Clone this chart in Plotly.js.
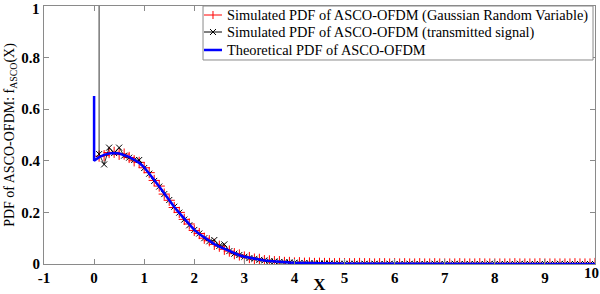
<!DOCTYPE html>
<html>
<head>
<meta charset="utf-8">
<script src="https://cdn.plot.ly/plotly-3.0.1.min.js"></script>
<style>html,body{margin:0;padding:0;background:#fff;}#chart{width:600px;height:294px;}</style>
</head>
<body>
<div id="chart"></div>
<script>
// Sample grid (x) shared by the two simulated series
const xGrid = [0.1,0.2,0.3,0.4,0.5,0.6,0.7,0.8,0.9,1.0,
  1.1,1.2,1.3,1.4,1.5,1.6,1.7,1.8,1.9,2.0,
  2.1,2.2,2.3,2.4,2.5,2.6,2.7,2.8,2.9,3.0,
  3.1,3.2,3.3,3.4,3.5,3.6,3.7,3.8,3.9,4.0,
  4.1,4.2,4.3,4.4,4.5,4.6,4.7,4.8,4.9,5.0,
  5.1,5.2,5.3,5.4,5.5,5.6,5.7,5.8,5.9,6.0,
  6.1,6.2,6.3,6.4,6.5,6.6,6.7,6.8,6.9,7.0,
  7.1,7.2,7.3,7.4,7.5,7.6,7.7,7.8,7.9,8.0,
  8.1,8.2,8.3,8.4,8.5,8.6,8.7,8.8,8.9,9.0,
  9.1,9.2,9.3,9.4,9.5,9.6,9.7,9.8,9.9,10.0];

// Simulated PDF (Gaussian Random Variable)
const redY = [0.418,0.420,0.432,0.433,0.425,0.426,0.413,0.400,0.394,0.373,
  0.354,0.324,0.302,0.271,0.247,0.219,0.200,0.173,0.155,0.130,
  0.118,0.100,0.090,0.076,0.069,0.057,0.050,0.040,0.035,0.027,
  0.025,0.019,0.018,0.013,0.012,0.009,0.009,0.006,0.006,0.004,
  0.005,0.003,0.004,0.002,0.003,0.002,0.002,0.001,0.002,0.001,
  0.001,0.001,0.002,0.001,0.001,0.000,0.001,0.001,0.000,0.001,
  0.000,0.001,0.000,0.000,0.001,0.000,0.000,0.001,0.000,0.000,
  0.000,0.000,0.001,0.000,0.000,0.000,0.001,0.000,0.000,0.000,
  0.000,0.000,0.000,0.001,0.000,0.000,0.000,0.000,0.001,0.000,
  0.000,0.000,0.000,0.000,0.000,0.001,0.000,0.000,0.000,0.002];

// Simulated PDF (transmitted signal); the first bin is a spike far above the axis
const blackSpikeX = 0.1;
const blackSpikeY = 4.0;
const blackVals = [0.426,0.386,0.451,0.430,0.451,0.420,0.412,0.403,0.403,0.372,
  0.350,0.322,0.300,0.271,0.248,0.222,0.199,0.172,0.150,0.132,
  0.118,0.100,0.088,0.093,0.070,0.076,0.050,0.040,0.035,0.028,
  0.023,0.020,0.016,0.014,0.011,0.010,0.008,0.007,0.006,0.005,
  0.004,0.004,0.003,0.003,0.002,0.002,0.002,0.001,0.001,0.001,
  0.001,0.001,0.000,0.001,0.000,0.001,0.000,0.000,0.001,0.000,
  0.000,0.000,0.001,0.000,0.000,0.000,0.000,0.001,0.000,0.000,
  0.000,0.001,0.000,0.000,0.000,0.000,0.000,0.000,0.001,0.000,
  0.000,0.000,0.000,0.000,0.001,0.000,0.000,0.000,0.000,0.000,
  0.000,0.000,0.001,0.000,0.000,0.000,0.000,0.000,0.000,0.000];

// Theoretical PDF
const blueX = [0,0,0.1,0.2,0.3,0.4,0.5,0.6,0.7,0.8,0.9,1.0,
  1.1,1.2,1.3,1.4,1.5,1.6,1.7,1.8,1.9,2.0,
  2.1,2.2,2.3,2.4,2.5,2.6,2.7,2.8,2.9,3.0,
  3.1,3.2,3.3,3.4,3.5,3.6,3.7,3.8,3.9,4.0,
  4.2,4.4,4.6,4.8,5.0,6.0,7.0,8.0,9.0,10.0];
const blueY = [0.651,0.400,0.414,0.423,0.428,0.430,0.428,0.423,0.415,0.404,0.392,0.375,
  0.352,0.326,0.300,0.273,0.245,0.221,0.198,0.175,0.153,0.132,
  0.116,0.102,0.089,0.077,0.067,0.058,0.049,0.041,0.034,0.028,
  0.024,0.020,0.017,0.014,0.012,0.010,0.008,0.007,0.006,0.005,
  0.004,0.003,0.002,0.0015,0.001,0.0005,0.0003,0.0002,0.0001,0.0001];

// Tick labels (the two edge labels are drawn as annotations so they are not dropped at the page edge)
const xTickVals = [-1,0,1,2,3,4,5,6,7,8,9];
const xTickText = ['-1','0','1','2','3','4','5','6','7','8','9'];
const yTickVals = [0,0.2,0.4,0.6,0.8];
const yTickText = ['0','0.2','0.4','0.6','0.8'];
const xEdgeLabel = '10';
const yEdgeLabel = '1';

const names = ['Simulated PDF of ASCO-OFDM (Gaussian Random Variable)',
  'Simulated PDF of ASCO-OFDM (transmitted signal)',
  'Theoretical PDF of ASCO-OFDM'];
const colors = ['#ff0000', '#000000', '#0000ff'];

const blackX = [blackSpikeX].concat(xGrid);
const blackY = [blackSpikeY].concat(blackVals);

const serif = 'Liberation Serif, Times New Roman, serif';
const tickFont = {family: serif, size: 15, color: '#000', weight: 'bold'};

const traces = [
  {x: xGrid, y: redY, name: names[0], type: 'scatter', mode: 'lines+markers',
   line: {color: colors[0], width: 0.8},
   marker: {symbol: 'cross-thin-open', size: 8, color: colors[0], line: {color: colors[0], width: 1}}},
  {x: blackX, y: blackY, name: names[1], type: 'scatter', mode: 'lines+markers',
   line: {color: colors[1], width: 0.8},
   marker: {symbol: 'x-thin-open', size: 6, color: colors[1], line: {color: colors[1], width: 1}}},
  {x: blueX, y: blueY, name: names[2], type: 'scatter', mode: 'lines',
   line: {color: colors[2], width: 2.5}}
];

// Hand-drawn legend (box, sample lines, sample markers, labels) in paper coordinates
const legBox = {x0: 0.2886, x1: 0.9964, y0: 0.7907, y1: 1.0};
const legRows = [0.9651, 0.8992, 0.8295];
const legLineX = [0.2904, 0.3230];
const legMarkX = 0.3067;
const legTextX = 0.3285;

const shapes = [{type: 'rect', xref: 'paper', yref: 'paper', x0: legBox.x0, x1: legBox.x1, y0: legBox.y0, y1: legBox.y1,
  line: {color: '#8a8a8a', width: 1}, fillcolor: '#ffffff', layer: 'above'}];
const lineWidths = [1, 1, 2.5];
legRows.forEach(function (yy, i) {
  shapes.push({type: 'line', xref: 'paper', yref: 'paper', x0: legLineX[0], x1: legLineX[1], y0: yy, y1: yy,
    line: {color: colors[i], width: lineWidths[i]}, layer: 'above'});
});
function pxSeg(yy, dx0, dy0, dx1, dy1, col) {
  return {type: 'line', xref: 'paper', yref: 'paper', xsizemode: 'pixel', ysizemode: 'pixel',
    xanchor: legMarkX, yanchor: yy, x0: dx0, x1: dx1, y0: dy0, y1: dy1,
    line: {color: col, width: 1}, layer: 'above'};
}
shapes.push(pxSeg(legRows[0], 0, -4, 0, 4, colors[0]));
shapes.push(pxSeg(legRows[1], -3, -3, 3, 3, colors[1]));
shapes.push(pxSeg(legRows[1], -3, 3, 3, -3, colors[1]));

const annotations = legRows.map(function (yy, i) {
  return {xref: 'paper', yref: 'paper', x: legTextX, y: yy, xanchor: 'left', yanchor: 'middle',
    text: names[i], showarrow: false, font: {family: serif, size: 14.4, color: '#000'}};
});
annotations.push({xref: 'paper', yref: 'paper', x: 1.009, y: 0, xanchor: 'right', yanchor: 'middle',
  yshift: -9, text: xEdgeLabel, showarrow: false, font: tickFont, borderpad: 0});
annotations.push({xref: 'paper', yref: 'paper', x: 0, y: 1, xanchor: 'right', yanchor: 'top',
  xshift: -3, yshift: 6, text: yEdgeLabel, showarrow: false, font: tickFont, borderpad: 0});

const axisCommon = {
  showline: true, mirror: 'ticks', linecolor: '#8a8a8a', linewidth: 1,
  ticks: 'inside', ticklen: 5, tickcolor: '#8a8a8a', tickwidth: 1,
  showgrid: false, zeroline: false, tickmode: 'array',
  tickfont: tickFont
};

const layout = {
  width: 600, height: 294,
  margin: {l: 44, r: 5, t: 6, b: 30},
  paper_bgcolor: '#fff', plot_bgcolor: '#fff',
  showlegend: false,
  shapes: shapes,
  annotations: annotations,
  xaxis: Object.assign({}, axisCommon, {range: [-1, 10], tickvals: xTickVals, ticktext: xTickText,
    title: {text: 'X', font: {family: serif, size: 17, color: '#000', weight: 'bold'}, standoff: 0}}),
  yaxis: Object.assign({}, axisCommon, {range: [0, 1], tickvals: yTickVals, ticktext: yTickText,
    title: {text: 'PDF of ASCO-OFDM: f<sub>ASCO</sub>(X)', font: {family: serif, size: 14, color: '#000'}, standoff: 3}})
};

Plotly.newPlot('chart', traces, layout, {displayModeBar: false, staticPlot: true});
</script>
</body>
</html>
